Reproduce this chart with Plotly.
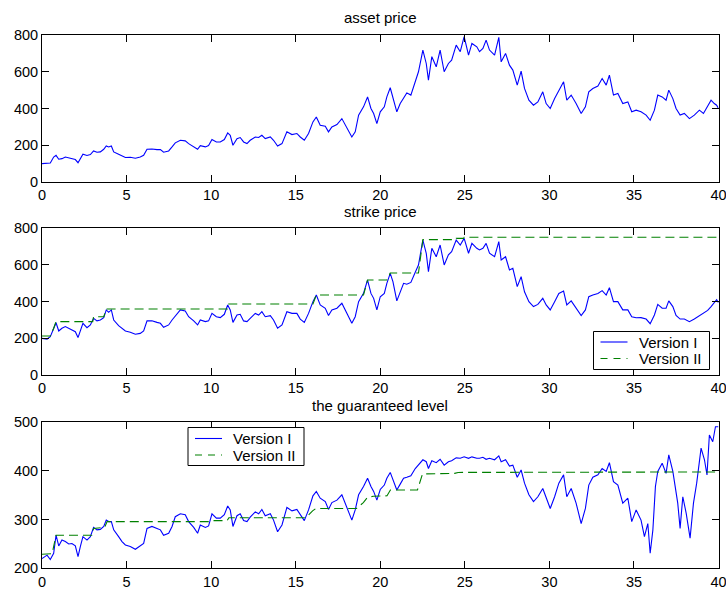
import plotly.graph_objects as go

FONT = "Liberation Sans, Arial, Helvetica, sans-serif"
BLUE = "#0000ff"
GREEN = "#008000"

# ---- sample times (years) shared by the asset price and strike price paths ----
t = [0, 0.3, 0.49, 0.69, 0.83, 0.99, 1.18, 1.38, 1.58, 1.77, 1.97, 2.13, 2.27, 2.42, 2.66, 2.86,
     3.05, 3.25, 3.45, 3.65, 3.8, 3.94, 4.1, 4.24, 4.53, 4.73, 4.93, 5.22, 5.52, 5.81, 6.01, 6.21,
     6.5, 6.8, 7.0, 7.19, 7.49, 7.69, 7.88, 8.18, 8.47, 8.67, 8.97, 9.2, 9.36, 9.66, 9.85, 10.05,
     10.31, 10.54, 10.78, 10.98, 11.13, 11.29, 11.53, 11.72,
     11.92, 12.12, 12.31, 12.61, 12.81, 13.0, 13.2, 13.5, 13.69, 13.93, 14.19, 14.48, 14.78, 15.07,
     15.27, 15.51, 15.76, 16.02, 16.22, 16.45, 16.75, 16.94, 17.14, 17.44, 17.73, 17.93, 18.13,
     18.32, 18.52, 18.72, 19.01, 19.25, 19.45, 19.61, 19.8, 20.0, 20.24, 20.39, 20.59, 20.75, 20.98,
     21.18, 21.38, 21.57, 21.81, 22.07, 22.26, 22.52, 22.72, 22.85, 23.05, 23.31, 23.54, 23.78,
     24.03, 24.22, 24.49, 24.73, 24.96, 25.22, 25.42, 25.71,
     25.87, 26.07, 26.26, 26.46, 26.76, 27.01, 27.15, 27.41, 27.64, 27.84, 28.1, 28.33, 28.53,
     28.79, 29.06, 29.32, 29.61, 29.81, 30.05, 30.31, 30.56, 30.84, 31.03, 31.29, 31.58, 31.88,
     32.13, 32.33, 32.57, 32.87, 33.12, 33.36, 33.55, 33.79, 34.05, 34.34, 34.64, 34.87, 35.13,
     35.42, 35.72, 35.96, 36.21, 36.41, 36.67, 36.9, 37.06, 37.3, 37.49, 37.73, 37.98, 38.28,
     38.57, 38.87, 39.11, 39.36, 39.56, 39.75, 39.89, 40.0]

asset_price = [100, 100, 103, 136, 145, 124, 127, 136, 131, 127, 122, 105, 124, 151, 144, 149,
               169, 162, 164, 178, 196, 191, 196, 164, 151, 142, 133, 135, 129, 136, 145, 178,
               180, 176, 176, 162, 169, 191, 213, 227, 224, 209, 191, 178, 198, 191, 198, 231,
               218, 218, 231, 267, 254, 200, 236, 242,
               218, 209, 227, 245, 242, 254, 236, 245, 227, 196, 209, 273, 258, 264,
               245, 227, 264, 327, 354, 309, 304, 273, 300, 313, 345, 309, 273,
               245, 273, 364, 409, 463, 400, 373, 318, 382, 409, 463, 513, 463, 382,
               427, 454, 485, 473, 554, 600, 718, 645, 554, 682, 627, 718, 600,
               645, 663, 745, 709, 791, 691, 754, 736,
               709, 727, 772, 718, 691, 787, 654, 700, 636, 609, 527, 603, 509,
               445, 418, 436, 491, 427, 400, 454, 500, 545, 445, 473, 427, 373,
               409, 491, 509, 522, 563, 527, 582, 473, 482, 427, 436, 382, 391,
               382, 364, 336, 391, 473, 463, 445, 500, 454, 400, 364, 373, 345,
               364, 391, 373, 409, 445, 427, 418, 400]

strike_v1 = [200, 196, 209, 255, 285, 240, 255, 264, 255, 245, 236, 204, 240, 282, 258, 273,
             309, 295, 300, 313, 355, 342, 355, 300, 269, 255, 240, 233, 222, 227, 240, 295,
             296, 287, 282, 260, 273, 300, 324, 355, 349, 318, 295, 273, 300, 291, 295, 336,
             318, 313, 331, 382, 355, 287, 327, 331,
             295, 291, 309, 336, 327, 345, 318, 324, 300, 255, 273, 345, 336, 336,
             305, 287, 336, 400, 436, 382, 364, 324, 355, 364, 391, 355, 318,
             282, 318, 400, 445, 518, 445, 418, 355, 427, 445, 500, 554, 509, 404,
             454, 500, 495, 505, 560, 600, 736, 664, 564, 691, 645, 709, 600,
             655, 673, 736, 709, 745, 664, 718, 691,
             682, 691, 718, 664, 645, 727, 627, 645, 573, 582, 482, 536, 454,
             400, 373, 385, 418, 382, 355, 400, 445, 458, 382, 404, 364, 324,
             355, 427, 436, 445, 460, 436, 476, 400, 400, 355, 355, 318, 312,
             313, 305, 280, 327, 385, 364, 364, 404, 373, 325, 305, 305, 291,
             305, 322, 336, 352, 373, 398, 411, 394]

# ---- strike price, version II: running level ----
t_strike_v2 = [0, 0.49, 0.69, 0.83, 3.0, 3.05, 3.65, 3.8, 10.96, 11.0, 16.02, 16.22, 19.01,
               19.25, 20.39, 20.59, 22.26, 22.52, 24.45, 24.49, 24.93, 24.96, 40]
strike_v2 = [213, 213, 255, 291, 291, 318, 318, 360, 360, 387, 387, 436, 436,
             518, 518, 556, 556, 738, 738, 745, 745, 751, 751]

# ---- guaranteed level, version I ----
t_guar = t[:118] + [25.87, 26.07, 26.26, 26.46, 26.76, 27.01, 27.15, 27.41, 27.64, 27.84, 28.1,
                    28.33, 28.53, 28.79, 29.06, 29.32, 29.61, 29.81, 30.05, 30.31, 30.56, 30.84,
                    31.03, 31.29, 31.58, 31.88, 32.13, 32.33, 32.57, 32.87, 33.12, 33.36, 33.55,
                    33.79, 34.05, 34.34, 34.64, 34.87, 35.13, 35.42, 35.62, 35.82, 35.96, 36.12,
                    36.27, 36.41, 36.67, 36.9, 37.06, 37.3, 37.49, 37.59, 37.73, 37.89, 38.09,
                    38.32, 38.52, 38.71, 38.97, 39.17, 39.32, 39.46, 39.66, 39.82, 40.0]

guar_v1 = [220, 227, 218, 231, 268, 246, 258, 255, 250, 251, 246, 224, 245, 265, 258, 265,
           284, 279, 280, 286, 299, 296, 296, 279, 265, 255, 248, 245, 239, 246, 251, 282,
           286, 282, 279, 268, 272, 286, 306, 312, 310, 296, 284, 272, 289, 284, 287, 312,
           303, 303, 310, 328, 320, 286, 308, 312,
           298, 296, 305, 316, 312, 321, 308, 312, 299, 275, 289, 325, 318, 321,
           310, 298, 320, 349, 358, 344, 337, 321, 335, 340, 351, 334, 316,
           299, 320, 351, 368, 385, 368, 358, 340, 362, 371, 385, 397, 382, 361,
           373, 385, 387, 390, 405, 412, 423, 419, 405, 421, 417, 424, 412,
           419, 421, 427, 426, 429, 426, 429, 426,
           426, 428, 424, 426, 423, 431, 419, 423, 410, 412, 387,
           402, 375, 351, 337, 347, 364, 347, 323, 347, 375, 392,
           347, 364, 334, 292, 323, 371, 387, 392, 405, 399, 417,
           378, 371, 334, 344, 296, 320, 299, 265, 292, 231, 279,
           368, 399, 416, 395, 433, 399, 361, 334, 282, 347, 313,
           262, 334, 375, 447, 423, 392, 474, 460, 491, 491]

# ---- guaranteed level, version II ----
t_guar_v2 = [0, 0.6, 0.83, 2.95, 3.05, 3.7, 3.85, 10.0, 10.1, 10.95, 11.05, 15.6, 16.0, 16.2,
             18.6, 19.0, 19.25, 19.6, 20.4, 20.6, 22.2, 22.5, 24.4, 24.6, 40]
guar_v2 = [229, 230, 268, 268, 282, 284, 296, 296, 298, 298, 304, 304, 318, 323,
           323, 335, 346, 348, 349, 361, 361, 394, 395, 397, 398]

x_ticks = [0, 5, 10, 15, 20, 25, 30, 35, 40]
y_ticks_price = [0, 200, 400, 600, 800]
y_ticks_guar = [200, 300, 400, 500]
panel_titles = ["asset price", "strike price", "the guaranteed level"]
series_names = ["Version I", "Version II"]

W, H = 726, 589
x_dom = [42 / W, 718.5 / W]
y_doms = [[1 - 182 / H, 1 - 35 / H],
          [1 - 375 / H, 1 - 228.3 / H],
          [1 - 568.3 / H, 1 - 422.3 / H]]
title_y = [1 - 18 / H, 1 - 211.5 / H, 1 - 405 / H]

solid = dict(color=BLUE, width=1.1)
dashed = dict(color=GREEN, width=1.1, dash="9px,5px")

fig = go.Figure()
fig.add_trace(go.Scatter(x=t, y=asset_price, mode="lines", line=solid,
                         showlegend=False, xaxis="x", yaxis="y"))
fig.add_trace(go.Scatter(x=t, y=strike_v1, mode="lines", line=solid, name=series_names[0],
                         showlegend=False, xaxis="x2", yaxis="y2"))
fig.add_trace(go.Scatter(x=t_strike_v2, y=strike_v2, mode="lines", line=dashed,
                         name=series_names[1], showlegend=False, xaxis="x2", yaxis="y2"))
fig.add_trace(go.Scatter(x=t_guar, y=guar_v1, mode="lines", line=solid, name=series_names[0],
                         showlegend=False, xaxis="x3", yaxis="y3"))
fig.add_trace(go.Scatter(x=t_guar_v2, y=guar_v2, mode="lines", line=dashed,
                         name=series_names[1], showlegend=False, xaxis="x3", yaxis="y3"))

axis_style = dict(showline=True, linecolor="black", linewidth=1, mirror="ticks",
                  ticks="inside", ticklen=7, tickwidth=1, tickcolor="black",
                  showgrid=False, zeroline=False, automargin=False,
                  ticklabeloverflow="allow",
                  tickfont=dict(family=FONT, size=14.5, color="black"))

layout = dict(
    width=W, height=H,
    margin=dict(l=0, r=0, t=0, b=0),
    paper_bgcolor="white", plot_bgcolor="white",
    font=dict(family=FONT, size=14.5, color="black"),
    showlegend=False,
)
y_ranges = [[0, 800], [0, 800], [200, 500]]
y_tickvals = [y_ticks_price, y_ticks_price, y_ticks_guar]
for i in range(3):
    sx = "" if i == 0 else str(i + 1)
    layout["xaxis" + sx] = dict(axis_style, domain=x_dom, range=[0, 40], tickvals=x_ticks,
                                anchor="y" + sx)
    layout["yaxis" + sx] = dict(axis_style, domain=y_doms[i], range=y_ranges[i],
                                tickvals=y_tickvals[i], anchor="x" + sx)

annotations = [
    dict(text=panel_titles[i], x=(x_dom[0] + x_dom[1]) / 2, y=title_y[i], xref="paper",
         yref="paper", xanchor="center", yanchor="middle", showarrow=False,
         font=dict(family=FONT, size=15, color="black"))
    for i in range(3)
]

# Boxed legends (MATLAB style): one inside the strike panel, one inside the guarantee panel.
# Each box: left, top, right, bottom in pixels; then row centres.
legend_boxes = [
    dict(box=(593.5, 331.5, 709.5, 369.5), rows=(342, 358.5)),
    dict(box=(188, 427.5, 304, 465.5), rows=(438.5, 455)),
]
shapes = []
for lg in legend_boxes:
    x0, y0, x1, y1 = lg["box"]
    shapes.append(dict(type="rect", xref="paper", yref="paper",
                       x0=x0 / W, x1=x1 / W, y0=1 - y1 / H, y1=1 - y0 / H,
                       line=dict(color="black", width=1), fillcolor="white", layer="above"))
    styles = [dict(color=BLUE, width=1.1), dict(color=GREEN, width=1.1, dash="7px,6px")]
    for row_y, st, name in zip(lg["rows"], styles, series_names):
        shapes.append(dict(type="line", xref="paper", yref="paper",
                           x0=(x0 + 7) / W, x1=(x0 + 34) / W,
                           y0=1 - row_y / H, y1=1 - row_y / H, line=st, layer="above"))
        annotations.append(dict(text=name, xref="paper", yref="paper",
                                x=(x0 + 43) / W, y=1 - row_y / H, xanchor="left",
                                yanchor="middle", showarrow=False,
                                font=dict(family=FONT, size=15, color="black")))

layout["shapes"] = shapes
layout["annotations"] = annotations

fig.update_layout(layout)
fig.write_html("out.html")
